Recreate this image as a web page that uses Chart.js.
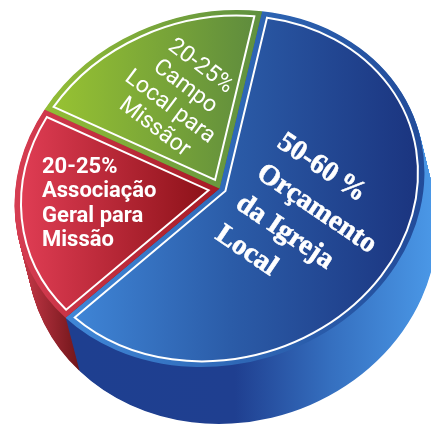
<!DOCTYPE html>
<html lang="pt">
<head>
<meta charset="utf-8">
<title>Orçamento</title>
<script src="https://cdn.jsdelivr.net/npm/chart.js@4"></script>
<style>
  html, body { margin: 0; padding: 0; background: #ffffff; }
  canvas { display: block; }
</style>
</head>
<body>
<canvas id="pie" width="431" height="424"></canvas>
<script>
const sliceNames = ["Orçamento da Igreja Local", "Associação Geral para Missão", "Campo Local para Missão"];
const sliceValues = [60.2, 20.2, 19.6];

const blueLines = ["50-60\u2009%", "Orçamento", "da Igreja", "Local"];
const redLines = ["20-25%", "Associação", "Geral para", "Missão"];
const greenLines = ["20-25%", "Campo", "Local para", "Missãor"];

const rimStops = [
  [[75, "#3f86d6"], [230, "#2f69b8"], [425, "#224b99"]],
  [[15, "#d63d52"], [215, "#a81c26"]],
  [[45, "#93bd36"], [262, "#5f9040"]],
];
const faceStops = [
  [[75, "#3f85d6"], [230, "#2b5ca8"], [415, "#1b3580"]],
  [[20, "#e03d54"], [210, "#8c1118"]],
  [[50, "#98c332"], [255, "#5f8c3d"]],
];
const sideStops = [
  [[70, "#1e3f90"], [235, "#1f3f90"], [330, "#356fbf"], [431, "#4a97e6"]],
  [[20, "#c93a4a"], [45, "#a32a35"], [80, "#6f1519"]],
  [[45, "#6f8f2a"], [260, "#46702c"]],
];

// padding leaves the library a circle of radius 205.5 around (219.5, 211.5)
const padding = { left: 14, right: 6, top: 6, bottom: 7 };
const pieX = 219.5;
const pieY = 211.5;
const pieR = 205.5;

// tilted ellipse of the top face and of the bottom of the wall
const topEllipse = { x: 219.5, y: 188.5, rot: -16.4, rx: 207.3, ry: 175.8 };
const baseEllipse = { x: 232, y: 238, rot: -16.4, rx: 207, ry: 184 };
const wallSteps = 60;
const inset = 6.5;

const lerp = (a, b, f) => a + (b - a) * f;

function pieMatrix(f) {
  return new DOMMatrix()
    .translate(lerp(topEllipse.x, baseEllipse.x, f), lerp(topEllipse.y, baseEllipse.y, f))
    .rotate(lerp(topEllipse.rot, baseEllipse.rot, f))
    .scale(lerp(topEllipse.rx, baseEllipse.rx, f) / pieR, lerp(topEllipse.ry, baseEllipse.ry, f) / pieR)
    .translate(-pieX, -pieY);
}

// left-to-right gradient in screen pixels, whatever matrix it is filled under
function gradient(ctx, stops, m) {
  const first = stops[0][0];
  const last = stops[stops.length - 1][0];
  const n = m.a * m.a + m.c * m.c;
  const g = ctx.createLinearGradient(
    m.a * (first - m.e) / n, m.c * (first - m.e) / n,
    m.a * (last - m.e) / n, m.c * (last - m.e) / n
  );
  stops.forEach((s) => g.addColorStop((s[0] - first) / (last - first), s[1]));
  return g;
}

function insetPath(ctx, arc) {
  const half = (arc.endAngle - arc.startAngle) / 2;
  const mid = arc.startAngle + half;
  const r = arc.outerRadius - inset;
  const skew = Math.asin(inset / r);
  const t = inset / Math.sin(half);
  ctx.beginPath();
  ctx.moveTo(arc.x + Math.cos(mid) * t, arc.y + Math.sin(mid) * t);
  ctx.arc(arc.x, arc.y, r, arc.startAngle + skew, arc.endAngle - skew);
  ctx.closePath();
}

function drawLines(ctx, lines, x, y, angle, lineHeight, heavy) {
  ctx.save();
  ctx.translate(x, y);
  ctx.rotate(angle * Math.PI / 180);
  lines.forEach((line, i) => {
    ctx.fillText(line, 0, i * lineHeight);
    if (heavy) ctx.strokeText(line, 0, i * lineHeight);
  });
  ctx.restore();
}

const fakePie3d = {
  id: "fakePie3d",
  beforeDatasetsDraw(chart) {
    const ctx = chart.ctx;
    const arcs = chart.getDatasetMeta(0).data;
    const screen = new DOMMatrix();
    ctx.save();
    // side wall: stacked copies of each slice, back slices first
    [2, 1, 0].forEach((i) => {
      const arc = arcs[i];
      const fill = gradient(ctx, sideStops[i], screen);
      for (let k = wallSteps; k >= 1; k--) {
        ctx.setTransform(pieMatrix(k / wallSteps));
        ctx.beginPath();
        ctx.moveTo(arc.x, arc.y);
        ctx.arc(arc.x, arc.y, arc.outerRadius, arc.startAngle, arc.endAngle);
        ctx.closePath();
        ctx.resetTransform();
        ctx.fillStyle = fill;
        ctx.fill();
      }
    });
    ctx.setTransform(pieMatrix(0));
  },
  afterDatasetsDraw(chart) {
    const ctx = chart.ctx;
    const screen = new DOMMatrix();
    chart.getDatasetMeta(0).data.forEach((arc, i) => {
      ctx.setTransform(pieMatrix(0));
      insetPath(ctx, arc);
      ctx.resetTransform();
      ctx.fillStyle = gradient(ctx, faceStops[i], screen);
      ctx.fill();
      ctx.strokeStyle = "#ffffff";
      ctx.lineWidth = 2;
      ctx.lineJoin = "miter";
      ctx.stroke();
    });
    ctx.restore();

    ctx.save();
    ctx.fillStyle = "#ffffff";
    ctx.strokeStyle = "#ffffff";
    ctx.lineWidth = 0.6;
    ctx.textBaseline = "alphabetic";

    ctx.textAlign = "left";
    ctx.font = "bold 28.5px 'Liberation Serif'";
    drawLines(ctx, blueLines, 276, 146, 34, 37, true);

    ctx.font = "bold 22px Roboto";
    drawLines(ctx, redLines, 42, 173, 0, 24.3);

    ctx.textAlign = "center";
    ctx.font = "23px Roboto";
    drawLines(ctx, greenLines, 197, 71, 37, 25.5);
    ctx.restore();
  },
};

new Chart(document.getElementById("pie"), {
  type: "pie",
  plugins: [fakePie3d],
  data: {
    labels: sliceNames,
    datasets: [{
      data: sliceValues,
      backgroundColor: (c) => gradient(c.chart.ctx, rimStops[c.dataIndex], pieMatrix(0)),
      borderWidth: 0,
      clip: false,
    }],
  },
  options: {
    responsive: false,
    animation: false,
    rotation: 26,
    layout: { padding: padding },
    plugins: {
      legend: { display: false },
      tooltip: { enabled: false },
    },
  },
});
</script>
</body>
</html>
